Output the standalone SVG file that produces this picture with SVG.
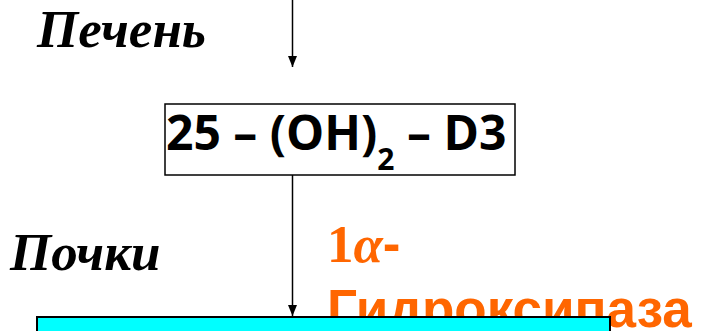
<svg xmlns="http://www.w3.org/2000/svg" width="702" height="331" viewBox="0 0 702 331">
<style>
.lbl{font-family:"Liberation Serif",serif;font-weight:bold;font-style:italic;font-size:53px;fill:#000}
.enz{font-family:"Liberation Sans",sans-serif;font-weight:bold;font-size:53px;fill:#FF6600}
.node{fill:#fff;stroke:#000;stroke-width:1.5}
.cyan{fill:#00FFFF;stroke:#000;stroke-width:2}
.conn{stroke:#000;stroke-width:1.5;fill:none}
.main{font-family:"Open Sans",sans-serif;font-weight:bold;font-size:48px;fill:#000}
</style>
<defs>
<marker id="ah" markerWidth="12" markerHeight="14" refX="11" refY="7" orient="auto" markerUnits="userSpaceOnUse">
<path d="M0,2.5 L11,7 L0,11.5 Z" fill="#000"/>
</marker>
</defs>
<text class="lbl" x="37" y="47">Печень</text>
<text class="lbl" x="10" y="270" font-size="54">Почки</text>
<g id="enzyme">
<text class="enz" x="327" y="262" font-size="50"><tspan font-family="Liberation Serif,serif">1</tspan><tspan font-family="Liberation Serif,serif" font-style="italic">α</tspan>-</text>
<text class="enz" x="327" y="327">Гидроксипаза</text>
</g>
<g id="connectors">
<line class="conn" x1="292.5" y1="0" x2="292.5" y2="67" marker-end="url(#ah)"/>
<line class="conn" x1="292.5" y1="175" x2="292.5" y2="316" marker-end="url(#ah)"/>
</g>
<g id="node-25oh">
<rect class="node" x="165" y="104" width="350" height="71"/>
<text class="main" x="166" y="150">25 – (OH)<tspan font-size="30" dy="20">2</tspan><tspan dy="-20"> – D3</tspan></text>
</g>
<g id="node-bottom">
<rect class="cyan" x="37" y="317" width="573" height="30"/>
</g>
</svg>
